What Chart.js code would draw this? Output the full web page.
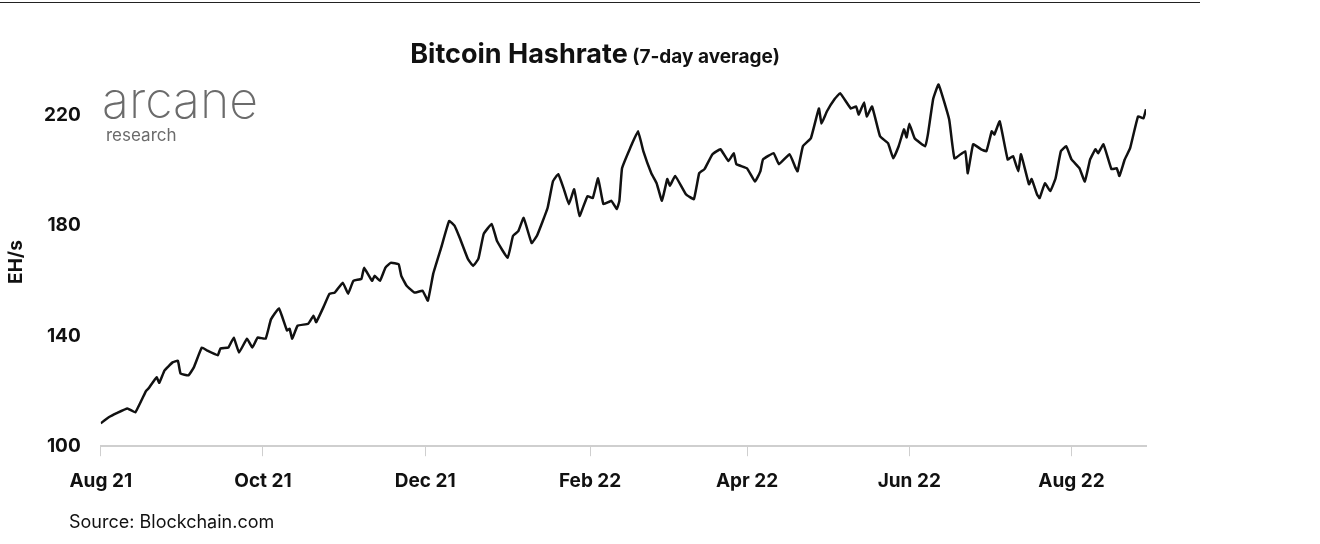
<!DOCTYPE html>
<html>
<head>
<meta charset="utf-8">
<script src="https://cdn.jsdelivr.net/npm/chart.js@4"></script>
<style>
  body { margin: 0; background: #fff; }
  #wrap { position: relative; width: 1320px; height: 544px; }
</style>
</head>
<body>
<div id="wrap"><canvas id="myChart" width="1320" height="544"></canvas></div>
<script>
// days since 1 Aug 2021, and the 7-day average hashrate (EH/s)
const dias = [0,3,6,10,13,17,18,21,22,24,27,29,30,33,35,38,40,44,45,48,50,52,55,57,59,62,64,67,70,71,72,74,78,80,81,84,86,88,91,93,95,98,99,102,103,105,107,109,112,113,115,118,121,123,125,128,131,133,135,138,140,142,144,147,149,153,155,157,159,162,164,168,170,172,174,176,178,180,183,185,187,189,192,194,195,196,199,202,204,207,209,211,213,214,216,220,223,225,227,230,233,236,238,239,243,246,248,249,253,255,259,261,262,264,267,270,271,273,276,278,282,284,285,287,288,290,293,296,298,300,302,303,304,306,310,311,313,315,319,321,325,326,328,331,333,335,336,338,341,343,345,346,349,350,352,353,355,357,359,361,363,365,368,370,372,374,375,377,380,382,383,385,387,390,392,393];
const hashrate = [108.3,110.5,112,113.7,112.3,120,121,125,123,127.5,130.4,131,126.4,125.7,128.6,135.8,134.7,133,135.4,135.8,139.4,134,139,135.8,139.4,139,146,150,142,142.6,139,143.7,144.4,147.3,145,151,155.3,155.7,159.3,155.3,160,160.7,164.7,160,161.8,160,164.7,166.5,166,161.8,158.2,155.7,156.4,152.8,162.5,172,181.7,180,175.5,168,165.4,168,177,180.6,174.4,168.3,176.3,178,182.8,173.7,176.3,186.4,196,198.7,193.6,187.8,193.2,183.5,190.7,190,197.2,187.8,189,186,189,200.8,208,214.2,207,199,195.4,189,196.9,194.5,198,191.4,189.6,199,200.5,205.9,207.7,203.4,206.3,202.3,200.8,196,199.7,204,206.3,202.3,205.9,201.5,199.7,208.8,211.7,222.5,217,221.4,226,228,222.5,223.2,220.3,224.7,219.6,223.2,212.4,209.9,204.4,208.8,214.9,212,217,211.7,208.8,213.1,226,231.2,218.5,204.4,207,199,209.5,207.7,207,214.2,213.1,217.8,204,205.2,199.7,205.9,195,196.9,191.4,190,195.4,192.5,197.2,207,208.8,204,200.8,196,204,207.7,206.3,209.5,200.5,200.8,198,204,208,219.6,218.9,222.2];
const marcasMes = [0,61,122,184,243,304,365];
const nombresMes = ["Aug 21","Oct 21","Dec 21","Feb 22","Apr 22","Jun 22","Aug 22"];
const marcasY = [100,140,180,220];

const FUENTE = "Inter, 'Open Sans', sans-serif";

const extras = {
  id: "extras",
  afterDraw(chart) {
    const c = chart.ctx;
    c.save();
    // top rule
    c.strokeStyle = "#222";
    c.lineWidth = 1;
    c.beginPath(); c.moveTo(0, 2.5); c.lineTo(1200, 2.5); c.stroke();
    // title
    c.fillStyle = "#111";
    c.textBaseline = "alphabetic";
    c.font = "bold 27px " + FUENTE;
    const t1 = "Bitcoin Hashrate";
    const t2 = " (7-day average)";
    const w1 = c.measureText(t1).width;
    c.font = "bold 19px " + FUENTE;
    const w2 = c.measureText(t2).width;
    const x0 = 595 - (w1 + w2) / 2;
    c.font = "bold 27px " + FUENTE;
    c.fillText(t1, x0, 63);
    c.font = "bold 19px " + FUENTE;
    c.fillText(t2, x0 + w1, 63);
    // logo
    c.fillStyle = "#6b6b6b";
    c.font = "200 50px " + FUENTE;
    c.fillText("arcane", 102, 118);
    c.font = "17px " + FUENTE;
    c.fillText("research", 106, 141);
    // axis title
    c.fillStyle = "#111";
    c.font = "bold 19px " + FUENTE;
    c.translate(22, 262);
    c.rotate(-Math.PI / 2);
    c.textAlign = "center";
    c.fillText("EH/s", 0, 0);
    c.restore();
    c.save();
    c.fillStyle = "#111";
    c.font = "18px " + FUENTE;
    c.fillText("Source: Blockchain.com", 69, 528);
    c.restore();
  }
};

const ctx = document.getElementById("myChart");
const myChart = new Chart(ctx, {
  type: "line",
  data: {
    datasets: [{
      data: dias.map((d, i) => ({ x: d, y: hashrate[i] })),
      borderColor: "#111",
      borderWidth: 2.5,
      pointRadius: 0,
      tension: 0.1
    }]
  },
  options: {
    responsive: false,
    animation: false,
    layout: { padding: { top: 74, left: 32, right: 174, bottom: 37 } },
    plugins: { legend: { display: false }, tooltip: { enabled: false } },
    scales: {
      x: {
        type: "linear",
        min: 0,
        max: 393,
        afterBuildTicks(axis) { axis.ticks = marcasMes.map(v => ({ value: v })); },
        ticks: {
          autoSkip: false,
          maxRotation: 0,
          color: "#111",
          padding: 14,
          font: { family: FUENTE, size: 19, weight: "bold" },
          callback: (v) => nombresMes[marcasMes.indexOf(v)]
        },
        grid: { drawOnChartArea: false, drawTicks: true, tickLength: 10, color: "#cfcfcf" },
        border: { color: "#cfcfcf", width: 2 }
      },
      y: {
        min: 100,
        max: 235,
        afterBuildTicks(axis) { axis.ticks = marcasY.map(v => ({ value: v })); },
        ticks: {
          color: "#111",
          padding: 12,
          font: { family: FUENTE, size: 19, weight: "bold" }
        },
        grid: { display: false },
        border: { display: false }
      }
    }
  },
  plugins: [extras]
});
</script>
</body>
</html>
